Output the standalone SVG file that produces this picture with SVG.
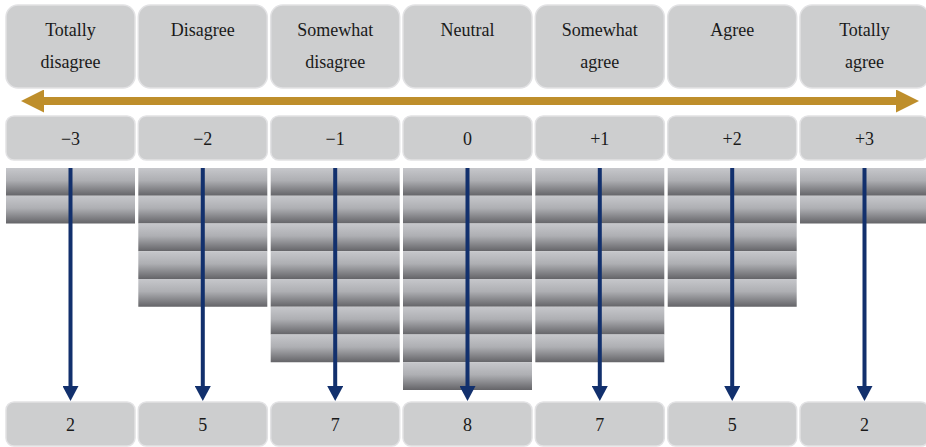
<svg xmlns="http://www.w3.org/2000/svg" width="926" height="447" viewBox="0 0 926 447">
<defs>
<style>
.box{fill:#cdcecf;stroke:#e2e2e4;stroke-width:1.5}
.t{font-family:"Liberation Serif","Times New Roman",serif;font-size:18px;fill:#1a1a1a;text-anchor:middle}
.bar{fill:url(#g)}
.gold{stroke:#be8e2b;stroke-width:8;fill:none}
.navy{stroke:#12306d;stroke-width:4;fill:none}
</style>
<linearGradient id="g" x1="0" y1="0" x2="0" y2="1">
<stop offset="0" stop-color="#c6c7cb"/>
<stop offset="0.45" stop-color="#aeafb3"/>
<stop offset="1" stop-color="#646468"/>
</linearGradient>
<marker id="ga" viewBox="0 0 23 23" refX="14" refY="11.5" markerWidth="23" markerHeight="23" markerUnits="userSpaceOnUse" orient="auto-start-reverse">
<path d="M0,0 L23,11.5 L0,23 Z" fill="#be8e2b"/>
</marker>
<marker id="na" viewBox="0 0 15 16" refX="6" refY="8" markerWidth="15" markerHeight="16" markerUnits="userSpaceOnUse" orient="auto">
<path d="M0,0 L15,8 L0,16 Z" fill="#12306d"/>
</marker>
</defs>
<rect width="926" height="447" fill="#ffffff"/>

<g id="label-1"><rect class="box" x="6" y="5" width="129" height="83" rx="12"/><text class="t" x="70.5" y="36">Totally</text><text class="t" x="70.5" y="68">disagree</text></g>
<g id="label-2"><rect class="box" x="138.3" y="5" width="129" height="83" rx="12"/><text class="t" x="202.8" y="36">Disagree</text></g>
<g id="label-3"><rect class="box" x="270.7" y="5" width="129" height="83" rx="12"/><text class="t" x="335.2" y="36">Somewhat</text><text class="t" x="335.2" y="68">disagree</text></g>
<g id="label-4"><rect class="box" x="403" y="5" width="129" height="83" rx="12"/><text class="t" x="467.5" y="36">Neutral</text></g>
<g id="label-5"><rect class="box" x="535.3" y="5" width="129" height="83" rx="12"/><text class="t" x="599.8" y="36">Somewhat</text><text class="t" x="599.8" y="68">agree</text></g>
<g id="label-6"><rect class="box" x="667.7" y="5" width="129" height="83" rx="12"/><text class="t" x="732.2" y="36">Agree</text></g>
<g id="label-7"><rect class="box" x="800" y="5" width="129" height="83" rx="12"/><text class="t" x="864.5" y="36">Totally</text><text class="t" x="864.5" y="68">agree</text></g>

<g id="value-1"><rect class="box" x="6" y="116" width="129" height="44" rx="8"/><text class="t" x="70.5" y="145">−3</text></g>
<g id="value-2"><rect class="box" x="138.3" y="116" width="129" height="44" rx="8"/><text class="t" x="202.8" y="145">−2</text></g>
<g id="value-3"><rect class="box" x="270.7" y="116" width="129" height="44" rx="8"/><text class="t" x="335.2" y="145">−1</text></g>
<g id="value-4"><rect class="box" x="403" y="116" width="129" height="44" rx="8"/><text class="t" x="467.5" y="145">0</text></g>
<g id="value-5"><rect class="box" x="535.3" y="116" width="129" height="44" rx="8"/><text class="t" x="599.8" y="145">+1</text></g>
<g id="value-6"><rect class="box" x="667.7" y="116" width="129" height="44" rx="8"/><text class="t" x="732.2" y="145">+2</text></g>
<g id="value-7"><rect class="box" x="800" y="116" width="129" height="44" rx="8"/><text class="t" x="864.5" y="145">+3</text></g>

<g id="bars-1">
<rect class="bar" x="6" y="168" width="129" height="27.75"/><rect class="bar" x="6" y="195.75" width="129" height="27.75"/>
</g>
<g id="bars-2">
<rect class="bar" x="138.3" y="168" width="129" height="27.75"/><rect class="bar" x="138.3" y="195.75" width="129" height="27.75"/><rect class="bar" x="138.3" y="223.5" width="129" height="27.75"/><rect class="bar" x="138.3" y="251.25" width="129" height="27.75"/><rect class="bar" x="138.3" y="279" width="129" height="27.75"/>
</g>
<g id="bars-3">
<rect class="bar" x="270.7" y="168" width="129" height="27.75"/><rect class="bar" x="270.7" y="195.75" width="129" height="27.75"/><rect class="bar" x="270.7" y="223.5" width="129" height="27.75"/><rect class="bar" x="270.7" y="251.25" width="129" height="27.75"/><rect class="bar" x="270.7" y="279" width="129" height="27.75"/><rect class="bar" x="270.7" y="306.75" width="129" height="27.75"/><rect class="bar" x="270.7" y="334.5" width="129" height="27.75"/>
</g>
<g id="bars-4">
<rect class="bar" x="403" y="168" width="129" height="27.75"/><rect class="bar" x="403" y="195.75" width="129" height="27.75"/><rect class="bar" x="403" y="223.5" width="129" height="27.75"/><rect class="bar" x="403" y="251.25" width="129" height="27.75"/><rect class="bar" x="403" y="279" width="129" height="27.75"/><rect class="bar" x="403" y="306.75" width="129" height="27.75"/><rect class="bar" x="403" y="334.5" width="129" height="27.75"/><rect class="bar" x="403" y="362.25" width="129" height="27.75"/>
</g>
<g id="bars-5">
<rect class="bar" x="535.3" y="168" width="129" height="27.75"/><rect class="bar" x="535.3" y="195.75" width="129" height="27.75"/><rect class="bar" x="535.3" y="223.5" width="129" height="27.75"/><rect class="bar" x="535.3" y="251.25" width="129" height="27.75"/><rect class="bar" x="535.3" y="279" width="129" height="27.75"/><rect class="bar" x="535.3" y="306.75" width="129" height="27.75"/><rect class="bar" x="535.3" y="334.5" width="129" height="27.75"/>
</g>
<g id="bars-6">
<rect class="bar" x="667.7" y="168" width="129" height="27.75"/><rect class="bar" x="667.7" y="195.75" width="129" height="27.75"/><rect class="bar" x="667.7" y="223.5" width="129" height="27.75"/><rect class="bar" x="667.7" y="251.25" width="129" height="27.75"/><rect class="bar" x="667.7" y="279" width="129" height="27.75"/>
</g>
<g id="bars-7">
<rect class="bar" x="800" y="168" width="129" height="27.75"/><rect class="bar" x="800" y="195.75" width="129" height="27.75"/>
</g>

<g id="count-1"><rect class="box" x="6" y="402" width="129" height="44" rx="8"/><text class="t" x="70.5" y="431">2</text></g>
<g id="count-2"><rect class="box" x="138.3" y="402" width="129" height="44" rx="8"/><text class="t" x="202.8" y="431">5</text></g>
<g id="count-3"><rect class="box" x="270.7" y="402" width="129" height="44" rx="8"/><text class="t" x="335.2" y="431">7</text></g>
<g id="count-4"><rect class="box" x="403" y="402" width="129" height="44" rx="8"/><text class="t" x="467.5" y="431">8</text></g>
<g id="count-5"><rect class="box" x="535.3" y="402" width="129" height="44" rx="8"/><text class="t" x="599.8" y="431">7</text></g>
<g id="count-6"><rect class="box" x="667.7" y="402" width="129" height="44" rx="8"/><text class="t" x="732.2" y="431">5</text></g>
<g id="count-7"><rect class="box" x="800" y="402" width="129" height="44" rx="8"/><text class="t" x="864.5" y="431">2</text></g>

<g id="connectors">
<line class="gold" x1="30" y1="101" x2="910" y2="101" marker-start="url(#ga)" marker-end="url(#ga)"/>
<line class="navy" x1="70.5" y1="168" x2="70.5" y2="392" marker-end="url(#na)"/>
<line class="navy" x1="202.8" y1="168" x2="202.8" y2="392" marker-end="url(#na)"/>
<line class="navy" x1="335.2" y1="168" x2="335.2" y2="392" marker-end="url(#na)"/>
<line class="navy" x1="467.5" y1="168" x2="467.5" y2="392" marker-end="url(#na)"/>
<line class="navy" x1="599.8" y1="168" x2="599.8" y2="392" marker-end="url(#na)"/>
<line class="navy" x1="732.2" y1="168" x2="732.2" y2="392" marker-end="url(#na)"/>
<line class="navy" x1="864.5" y1="168" x2="864.5" y2="392" marker-end="url(#na)"/>
</g>
</svg>
